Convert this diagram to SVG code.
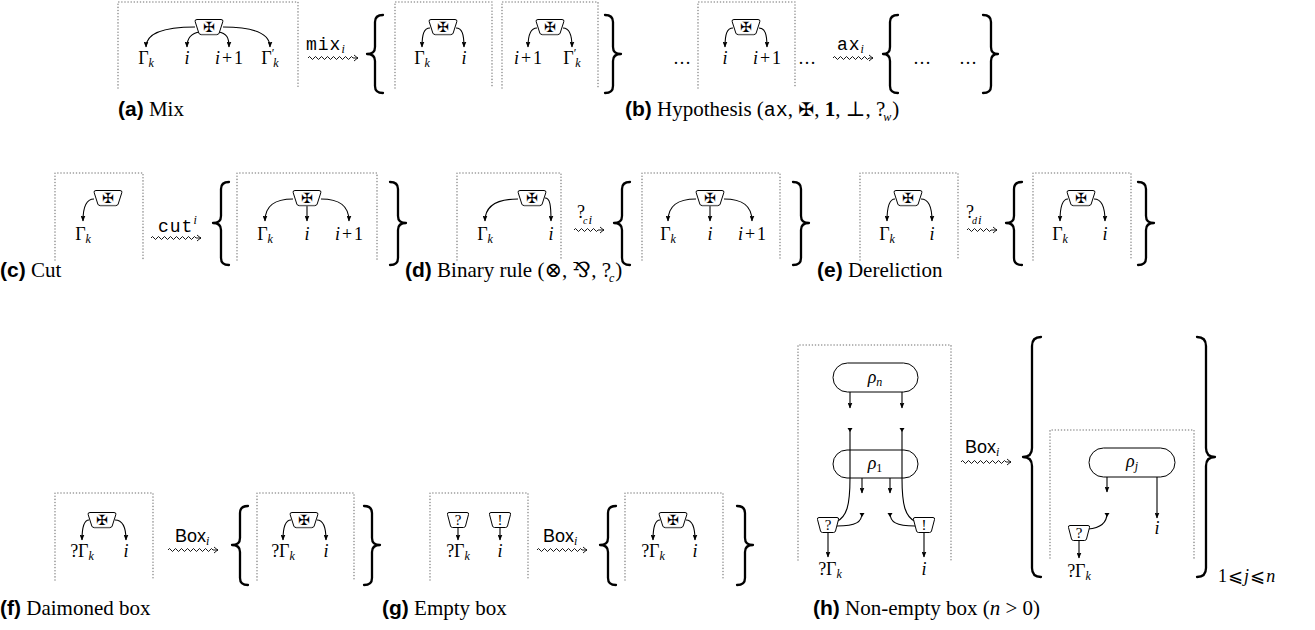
<svg xmlns="http://www.w3.org/2000/svg" width="1315" height="630" viewBox="0 0 1315 630">
<defs>
<style>
.bx{fill:none;stroke:#8f8f8f;stroke-width:1.6;stroke-dasharray:0 3.1;stroke-linecap:round}
.e{fill:none;stroke:#000;stroke-width:1.1;marker-end:url(#ah)}
.t{fill:none;stroke:#000;stroke-width:1.1;marker-start:url(#tri)}
.br{fill:none;stroke:#000;stroke-width:2.3;stroke-linecap:round;stroke-linejoin:round}
.w{fill:none;stroke:#000;stroke-width:0.9}
.m{font-family:"Liberation Serif","DejaVu Serif",serif;font-size:18px;fill:#000}
.i{font-style:italic}
.s{font-size:12px;font-style:italic}
.tt{font-family:"Liberation Mono","DejaVu Sans Mono",monospace;font-size:18px;letter-spacing:1px}
.sf{font-family:"Liberation Sans","DejaVu Sans",sans-serif;font-size:18px}
.cap{font-family:"Liberation Serif","DejaVu Serif",serif;font-size:21px;fill:#000}
.cb{font-family:"Liberation Sans","DejaVu Sans",sans-serif;font-weight:bold}
.nd{fill:#fff;stroke:#000;stroke-width:1}
.q{font-family:"Liberation Serif","DejaVu Serif",serif;font-size:15px}
.rho{fill:#fff;stroke:#000;stroke-width:1}
</style>
<marker id="ah" viewBox="0 0 6 5" refX="5.5" refY="2.5" markerWidth="6" markerHeight="5" markerUnits="userSpaceOnUse" orient="auto"><path d="M0,0 L6,2.5 L0,5 Q1.5,2.5 0,0 Z"/></marker>
<marker id="tri" viewBox="-1 -3 6 6" refX="0" refY="0" markerWidth="6" markerHeight="6" markerUnits="userSpaceOnUse" orient="auto"><path d="M0,-2.5 L4,0 L0,2.5 Z"/></marker>
<g id="dmn">
<path class="nd" d="M-12,-7.5 H12 Q14.5,-7.5 13.8,-5.3 L10.2,6 Q9.8,7.5 8,7.5 H-8 Q-9.8,7.5 -10.2,6 L-13.8,-5.3 Q-14.5,-7.5 -12,-7.5 Z"/>
<path d="M-8,7.6 H8" stroke="#666" stroke-width="1.4"/>
<text x="0" y="5.2" text-anchor="middle" font-family="DejaVu Sans" font-size="14">✠</text>
</g>
<g id="qn">
<path class="nd" d="M-9,-7.5 H9 Q11,-7.5 10.5,-5.5 L7.5,6 Q7,7.5 5.5,7.5 H-5.5 Q-7,7.5 -7.5,6 L-10.5,-5.5 Q-11,-7.5 -9,-7.5 Z"/>
<text class="q" x="0" y="5" text-anchor="middle">?</text>
</g>
<g id="bn">
<path class="nd" d="M-9,-7.5 H9 Q11,-7.5 10.5,-5.5 L7.5,6 Q7,7.5 5.5,7.5 H-5.5 Q-7,7.5 -7.5,6 L-10.5,-5.5 Q-11,-7.5 -9,-7.5 Z"/>
<text class="q" x="0" y="5" text-anchor="middle">!</text>
</g>
<path id="wv50" d="M0,0 q1.5,-3 3,0 t3,0 t3,0 t3,0 t3,0 t3,0 t3,0 t3,0 t3,0 t3,0 t3,0 t3,0 t3,0 t3,0 t3,0 l5,0 M46,-3 Q48.5,-0.8 50,0 Q48.5,0.8 46,3"/>
<path id="wv40" d="M0,0 q1.5,-3 3,0 t3,0 t3,0 t3,0 t3,0 t3,0 t3,0 t3,0 t3,0 t3,0 t3,0 t3,0 l4,0 M36,-3 Q38.5,-0.8 40,0 Q38.5,0.8 36,3"/>
<path id="wv30" d="M0,0 q1.5,-3 3,0 t3,0 t3,0 t3,0 t3,0 t3,0 t3,0 t3,0 l6,0 M26,-3 Q28.5,-0.8 30,0 Q28.5,0.8 26,3"/>
</defs>
<rect width="1315" height="630" fill="#fff"/>

<!-- boxes -->
<g id="boxes">
<path class="bx" d="M118,88 V2 H298 V88"/>
<path class="bx" d="M395,88 V2 H492 V88"/>
<path class="bx" d="M502,88 V2 H598 V88"/>
<path class="bx" d="M698,88 V2 H795 V88"/>
<path class="bx" d="M55,260 V173 H143 V260"/>
<path class="bx" d="M237,260 V173 H377 V260"/>
<path class="bx" d="M457,260 V173 H561 V260"/>
<path class="bx" d="M642,260 V173 H780 V260"/>
<path class="bx" d="M860,260 V173 H958 V260"/>
<path class="bx" d="M1033,260 V173 H1131 V260"/>
<path class="bx" d="M55,580 V493 H153 V580"/>
<path class="bx" d="M257,580 V493 H354 V580"/>
<path class="bx" d="M430,580 V493 H528 V580"/>
<path class="bx" d="M625,580 V493 H723 V580"/>
<path class="bx" d="M798,560 V345 H951 V560"/>
<path class="bx" d="M1050,558 V430 H1194 V558"/>
</g>

<!-- braces -->
<g id="braces">
<path class="br" d="M383,15 Q375,15 375,22 L375,47 Q375,54 367,54 Q375,54 375,61 L375,86 Q375,93 383,93"/>
<path class="br" d="M605,15 Q613,15 613,22 L613,47 Q613,54 621,54 Q613,54 613,61 L613,86 Q613,93 605,93"/>
<path class="br" d="M898,15 Q890,15 890,22 L890,47 Q890,54 883,54 Q890,54 890,61 L890,86 Q890,93 898,93"/>
<path class="br" d="M983,15 Q991,15 991,22 L991,47 Q991,54 998,54 Q991,54 991,61 L991,86 Q991,93 983,93"/>
<path class="br" d="M229,182 Q221,182 221,189 L221,216 Q221,223 213,223 Q221,223 221,230 L221,258 Q221,265 229,265"/>
<path class="br" d="M390,182 Q398,182 398,189 L398,216 Q398,223 406,223 Q398,223 398,230 L398,258 Q398,265 390,265"/>
<path class="br" d="M630,182 Q622,182 622,189 L622,216 Q622,223 614,223 Q622,223 622,230 L622,258 Q622,265 630,265"/>
<path class="br" d="M793,182 Q801,182 801,189 L801,216 Q801,223 809,223 Q801,223 801,230 L801,258 Q801,265 793,265"/>
<path class="br" d="M1022,182 Q1014,182 1014,189 L1014,216 Q1014,223 1006,223 Q1014,223 1014,230 L1014,258 Q1014,265 1022,265"/>
<path class="br" d="M1138,182 Q1146,182 1146,189 L1146,216 Q1146,223 1154,223 Q1146,223 1146,230 L1146,258 Q1146,265 1138,265"/>
<path class="br" d="M248,506 Q240,506 240,513 L240,538 Q240,545 232,545 Q240,545 240,552 L240,578 Q240,585 248,585"/>
<path class="br" d="M364,506 Q372,506 372,513 L372,538 Q372,545 380,545 Q372,545 372,552 L372,578 Q372,585 364,585"/>
<path class="br" d="M616,506 Q608,506 608,513 L608,538 Q608,545 600,545 Q608,545 608,552 L608,578 Q608,585 616,585"/>
<path class="br" d="M737,506 Q745,506 745,513 L745,538 Q745,545 753,545 Q745,545 745,552 L745,578 Q745,585 737,585"/>
<path class="br" d="M1041,337 Q1032,337 1032,346 L1032,448 Q1032,457 1023,457 Q1032,457 1032,466 L1032,568 Q1032,577 1041,577"/>
<path class="br" d="M1197,337 Q1206,337 1206,346 L1206,448 Q1206,457 1215,457 Q1206,457 1206,466 L1206,568 Q1206,577 1197,577"/>
</g>

<!-- connectors -->
<g id="connectors">
<path class="e" d="M195,27 C170,27 146,31 146,47"/>
<path class="e" d="M200,32 C191,33 187,38 187,47"/>
<path class="e" d="M218,32 C227,33 229,38 229,47"/>
<path class="e" d="M223,27 C248,27 270,31 270,47"/>
<path class="e" d="M430,28 C424,28 422,34 422,47"/>
<path class="e" d="M456,28 C462,28 464,34 464,47"/>
<path class="e" d="M537,28 C531,28 528,34 528,47"/>
<path class="e" d="M563,28 C569,28 572,34 572,47"/>
<path class="e" d="M733,28 C727,28 725,34 725,47"/>
<path class="e" d="M759,28 C765,28 767,34 767,47"/>
<path class="e" d="M94,199 C88,199 83,205 83,221"/>
<path class="e" d="M293,199 C275,199 265,205 265,221"/>
<path class="e" d="M307,205 L307,221"/>
<path class="e" d="M321,199 C339,199 349,205 349,221"/>
<path class="e" d="M518,199 C498,199 485,205 485,221"/>
<path class="e" d="M545,198 C550,198 551,205 551,221"/>
<path class="e" d="M696,199 C678,199 668,205 668,221"/>
<path class="e" d="M710,205 L710,221"/>
<path class="e" d="M724,199 C742,199 752,205 752,221"/>
<path class="e" d="M895,199 C890,199 887,205 887,221"/>
<path class="e" d="M921,199 C928,199 932,205 932,221"/>
<path class="e" d="M1068,199 C1063,199 1060,205 1060,221"/>
<path class="e" d="M1094,199 C1101,199 1105,205 1105,221"/>
<path class="e" d="M89,520 C84,520 82,526 82,540"/>
<path class="e" d="M115,520 C122,520 126,526 126,540"/>
<path class="e" d="M291,520 C286,520 283,526 283,540"/>
<path class="e" d="M317,520 C323,520 326,526 326,540"/>
<path class="e" d="M458,527 L458,540"/>
<path class="e" d="M500,527 L500,540"/>
<path class="e" d="M660,520 C655,520 653,526 653,540"/>
<path class="e" d="M686,520 C692,520 695,526 695,540"/>
<path class="e" d="M850,392 V408"/>
<path class="e" d="M902,392 V408"/>
<path class="e" d="M862,478 V493"/>
<path class="e" d="M890,478 V493"/>
<path class="e" d="M828,533 V557"/>
<path class="e" d="M924,533 V557"/>
<path class="e" d="M1107,477 V492"/>
<path class="e" d="M1157,477 V518"/>
<path class="e" d="M1079,541 V558"/>
<g class="w">
<use href="#wv50" x="308" y="58"/>
<use href="#wv40" x="833" y="58"/>
<use href="#wv50" x="151" y="238"/>
<use href="#wv30" x="574" y="230"/>
<use href="#wv30" x="967" y="230"/>
<use href="#wv50" x="168" y="550"/>
<use href="#wv50" x="537" y="550"/>
<use href="#wv50" x="961" y="462"/>
</g>
</g>

<!-- nodes -->
<g id="n-a"><use href="#dmn" x="209" y="27"/></g>
<g id="n-a1"><use href="#dmn" x="443" y="27"/></g>
<g id="n-a2"><use href="#dmn" x="550" y="27"/></g>
<g id="n-b"><use href="#dmn" x="746" y="27"/></g>
<g id="n-c"><use href="#dmn" x="108" y="198"/></g>
<g id="n-c1"><use href="#dmn" x="307" y="198"/></g>
<g id="n-d"><use href="#dmn" x="532" y="198"/></g>
<g id="n-d1"><use href="#dmn" x="710" y="198"/></g>
<g id="n-e"><use href="#dmn" x="908" y="198"/></g>
<g id="n-e1"><use href="#dmn" x="1081" y="198"/></g>
<g id="n-f"><use href="#dmn" x="102" y="520"/></g>
<g id="n-f1"><use href="#dmn" x="304" y="520"/></g>
<g id="n-gq"><use href="#qn" x="458" y="520"/></g>
<g id="n-gb"><use href="#bn" x="500" y="520"/></g>
<g id="n-g1"><use href="#dmn" x="673" y="520"/></g>

<g id="n-h">
<g id="rho-n"><rect class="rho" x="833" y="363" width="85" height="29" rx="14.5"/>
<text class="m i" x="875" y="383" text-anchor="middle">ρ<tspan class="s" dy="3">n</tspan></text></g>
<g id="rho-1"><rect class="rho" x="833" y="450" width="85" height="28" rx="14"/>
<text class="m i" x="875" y="469" text-anchor="middle">ρ<tspan font-size="12" font-style="normal" dy="3">1</tspan></text></g>
<path class="t" d="M850,428 V478 C850,505 847,517 836,522"/>
<path class="t" d="M902,428 V478 C902,505 905,517 916,522"/>
<path class="t" d="M862,513 C862,522 856,526 837,526"/>
<path class="t" d="M890,513 C890,522 896,526 915,526"/>
<g id="h-q"><use href="#qn" x="828" y="525"/></g>
<g id="h-b"><use href="#bn" x="924" y="525"/></g>
</g>
<g id="n-h1">
<g id="rho-j"><rect class="rho" x="1089" y="448" width="86" height="29" rx="14.5"/>
<text class="m i" x="1132" y="467" text-anchor="middle">ρ<tspan class="s" dy="3">j</tspan></text></g>
<path class="t" d="M1107,513 C1107,522 1101,528 1088,529"/>
<g id="h1-q"><use href="#qn" x="1079" y="533"/></g>
</g>

<!-- labels -->
<g id="labels">
<text class="m" x="146" y="64" text-anchor="middle">Γ<tspan class="s" dy="3">k</tspan></text>
<text class="m i" x="187" y="64" text-anchor="middle">i</text>
<text class="m" x="229" y="64" text-anchor="middle"><tspan class="i">i</tspan><tspan dx="2">+</tspan><tspan dx="2">1</tspan></text>
<text class="m" x="270" y="64" text-anchor="middle">Γ<tspan font-size="12" dy="-7">′</tspan><tspan class="s" dx="-1" dy="10">k</tspan></text>
<text class="m" x="422" y="64" text-anchor="middle">Γ<tspan class="s" dy="3">k</tspan></text>
<text class="m i" x="464" y="64" text-anchor="middle">i</text>
<text class="m" x="528" y="64" text-anchor="middle"><tspan class="i">i</tspan><tspan dx="2">+</tspan><tspan dx="2">1</tspan></text>
<text class="m" x="572" y="64" text-anchor="middle">Γ<tspan font-size="12" dy="-7">′</tspan><tspan class="s" dx="-1" dy="10">k</tspan></text>
<text class="m" x="682" y="64" text-anchor="middle">…</text>
<text class="m i" x="725" y="64" text-anchor="middle">i</text>
<text class="m" x="767" y="64" text-anchor="middle"><tspan class="i">i</tspan><tspan dx="2">+</tspan><tspan dx="2">1</tspan></text>
<text class="m" x="807" y="64" text-anchor="middle">…</text>
<text class="m" x="922" y="64" text-anchor="middle">…</text>
<text class="m" x="968" y="64" text-anchor="middle">…</text>
<text x="306" y="50"><tspan class="tt">mix</tspan><tspan class="m s" dy="3">i</tspan></text>
<text x="837" y="50"><tspan class="tt">ax</tspan><tspan class="m s" dy="3">i</tspan></text>

<text class="m" x="83" y="240" text-anchor="middle">Γ<tspan class="s" dy="3">k</tspan></text>
<text class="m" x="265" y="240" text-anchor="middle">Γ<tspan class="s" dy="3">k</tspan></text>
<text class="m i" x="307" y="240" text-anchor="middle">i</text>
<text class="m" x="349" y="240" text-anchor="middle"><tspan class="i">i</tspan><tspan dx="2">+</tspan><tspan dx="2">1</tspan></text>
<text class="m" x="485" y="240" text-anchor="middle">Γ<tspan class="s" dy="3">k</tspan></text>
<text class="m i" x="551" y="240" text-anchor="middle">i</text>
<text class="m" x="668" y="240" text-anchor="middle">Γ<tspan class="s" dy="3">k</tspan></text>
<text class="m i" x="710" y="240" text-anchor="middle">i</text>
<text class="m" x="752" y="240" text-anchor="middle"><tspan class="i">i</tspan><tspan dx="2">+</tspan><tspan dx="2">1</tspan></text>
<text class="m" x="887" y="240" text-anchor="middle">Γ<tspan class="s" dy="3">k</tspan></text>
<text class="m i" x="932" y="240" text-anchor="middle">i</text>
<text class="m" x="1060" y="240" text-anchor="middle">Γ<tspan class="s" dy="3">k</tspan></text>
<text class="m i" x="1105" y="240" text-anchor="middle">i</text>
<text x="158" y="232"><tspan class="tt">cut</tspan><tspan class="m s" dy="-8">i</tspan></text>
<text class="m" x="577" y="218" font-size="15">?<tspan dx="-2" dy="6" font-size="10" font-style="italic">c</tspan><tspan dx="1" font-size="13" font-style="italic">i</tspan></text>
<text class="m" x="966" y="218" font-size="15">?<tspan dx="-2" dy="6" font-size="10" font-style="italic">d</tspan><tspan dx="1" font-size="13" font-style="italic">i</tspan></text>

<text class="m" x="82" y="557" text-anchor="middle">?Γ<tspan class="s" dy="3">k</tspan></text>
<text class="m i" x="126" y="557" text-anchor="middle">i</text>
<text class="m" x="283" y="557" text-anchor="middle">?Γ<tspan class="s" dy="3">k</tspan></text>
<text class="m i" x="326" y="557" text-anchor="middle">i</text>
<text class="m" x="458" y="557" text-anchor="middle">?Γ<tspan class="s" dy="3">k</tspan></text>
<text class="m i" x="500" y="557" text-anchor="middle">i</text>
<text class="m" x="653" y="557" text-anchor="middle">?Γ<tspan class="s" dy="3">k</tspan></text>
<text class="m i" x="695" y="557" text-anchor="middle">i</text>
<text x="175" y="542"><tspan class="sf">Box</tspan><tspan class="m s" dy="3">i</tspan></text>
<text x="543" y="542"><tspan class="sf">Box</tspan><tspan class="m s" dy="3">i</tspan></text>
<text x="965" y="453"><tspan class="sf">Box</tspan><tspan class="m s" dy="3">i</tspan></text>
<text class="m" x="830" y="575" text-anchor="middle">?Γ<tspan class="s" dy="3">k</tspan></text>
<text class="m i" x="924" y="575" text-anchor="middle">i</text>
<text class="m" x="1079" y="577" text-anchor="middle">?Γ<tspan class="s" dy="3">k</tspan></text>
<text class="m i" x="1157" y="534" text-anchor="middle">i</text>
<text class="m" x="1218" y="582">1<tspan font-family="DejaVu Sans" dx="1">⩽</tspan><tspan class="i" dx="1">j</tspan><tspan font-family="DejaVu Sans" dx="1">⩽</tspan><tspan class="i" dx="1">n</tspan></text>
</g>

<!-- captions -->
<g id="captions">
<text class="cap" x="118" y="116"><tspan class="cb">(a)</tspan> Mix</text>
<text class="cap" x="625" y="116"><tspan class="cb">(b)</tspan> Hypothesis (<tspan style="font-family:'Liberation Mono',monospace;font-size:20px">ax</tspan>, <tspan font-family="DejaVu Sans" font-size="19">✠</tspan>, <tspan font-weight="bold">1</tspan>, ⊥, ?<tspan dx="-2" dy="5" font-size="12" font-style="italic">w</tspan><tspan dx="1" dy="-5">)</tspan></text>
<text class="cap" x="0" y="277"><tspan class="cb">(c)</tspan> Cut</text>
<text class="cap" x="405" y="277"><tspan class="cb">(d)</tspan> Binary rule (⊗, ⅋, ?<tspan dx="-2" dy="5" font-size="12" font-style="italic">c</tspan><tspan dx="1" dy="-5">)</tspan></text>
<text class="cap" x="817" y="277"><tspan class="cb">(e)</tspan> Dereliction</text>
<text class="cap" x="0" y="615"><tspan class="cb">(f)</tspan> Daimoned box</text>
<text class="cap" x="382" y="615"><tspan class="cb">(g)</tspan> Empty box</text>
<text class="cap" x="813" y="615"><tspan class="cb">(h)</tspan> Non-empty box (<tspan font-style="italic">n</tspan> &gt; 0)</text>
</g>
</svg>
